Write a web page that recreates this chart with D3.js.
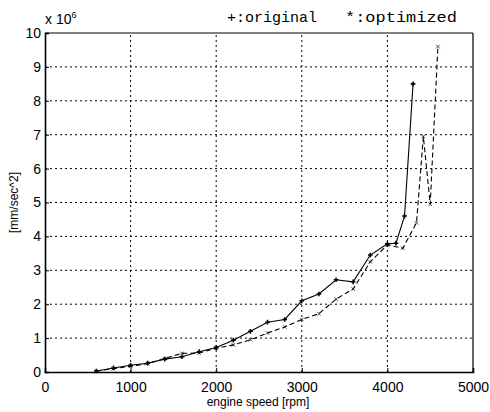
<!DOCTYPE html>
<html>
<head>
<meta charset="utf-8">
<script src="https://cdn.jsdelivr.net/npm/d3@7"></script>
<style>
  body { margin: 0; background: #fff; }
  svg { display: block; }
</style>
</head>
<body>
<svg id="chart" width="490" height="412"></svg>
<script>
// Acceleration vs engine speed, original vs optimized design (values in units of 10^6)
const originalRpm = [600, 800, 1000, 1200, 1400, 1600, 1800, 2000, 2200, 2400, 2600, 2800, 3000, 3200, 3400, 3600, 3800, 4000, 4100, 4200, 4300];
const originalAcc = [0.03, 0.12, 0.2, 0.26, 0.38, 0.45, 0.6, 0.72, 0.94, 1.2, 1.47, 1.55, 2.1, 2.3, 2.72, 2.66, 3.45, 3.78, 3.8, 4.6, 8.5];
const optimizedRpm = [600, 800, 1000, 1200, 1400, 1600, 1800, 2000, 2200, 2400, 2600, 2800, 3000, 3200, 3400, 3600, 3800, 4000, 4180, 4340, 4420, 4500, 4590];
const optimizedAcc = [0.02, 0.1, 0.17, 0.25, 0.4, 0.55, 0.56, 0.7, 0.8, 0.95, 1.15, 1.33, 1.55, 1.72, 2.15, 2.45, 3.25, 3.75, 3.65, 4.4, 6.95, 4.95, 9.6];
const xTicks = [0, 1000, 2000, 3000, 4000, 5000];
const yTicks = [0, 1, 2, 3, 4, 5, 6, 7, 8, 9, 10];

const svg = d3.select("#chart");
const m = { left: 45, right: 17, top: 33, bottom: 40 };
const W = 490, H = 412;
const x = d3.scaleLinear().domain([0, 5000]).range([m.left, W - m.right]);
const y = d3.scaleLinear().domain([0, 10]).range([H - m.bottom, m.top]);
const font = "'Liberation Sans', Arial, sans-serif";
const mono = "'Liberation Mono', 'DejaVu Sans Mono', monospace";

// dotted grid
const grid = svg.append("g").attr("stroke", "#000").attr("stroke-width", 1)
  .attr("stroke-dasharray", "2,3");
grid.selectAll(".gx").data(xTicks.slice(1, -1)).join("line")
  .attr("x1", d => x(d)).attr("x2", d => x(d))
  .attr("y1", y(0)).attr("y2", y(10));
grid.selectAll(".gy").data(yTicks.slice(1, -1)).join("line")
  .attr("x1", x(0)).attr("x2", x(5000))
  .attr("y1", d => y(d)).attr("y2", d => y(d));

// axes with inward ticks
const ax = svg.append("g");
ax.append("g").attr("transform", `translate(0,${y(0)})`)
  .call(d3.axisBottom(x).tickValues(xTicks).tickSize(-4).tickPadding(10).tickFormat(d3.format("d")));
ax.append("g").attr("transform", `translate(${x(0)},0)`)
  .call(d3.axisLeft(y).tickValues(yTicks).tickSize(-4).tickPadding(4).tickFormat(d3.format("d")));
ax.selectAll(".domain").attr("stroke", "#000").attr("stroke-width", 1.6);
ax.selectAll("text").attr("fill", "#000").attr("font-family", font).attr("font-size", 14);
ax.selectAll(".tick line").attr("stroke", "#000");

// top and right frame
svg.append("line").attr("x1", x(0)).attr("x2", x(5000)).attr("y1", y(10)).attr("y2", y(10))
  .attr("stroke", "#000").attr("stroke-width", 1.2);
svg.append("line").attr("x1", x(5000)).attr("x2", x(5000)).attr("y1", y(10)).attr("y2", y(0))
  .attr("stroke", "#000").attr("stroke-width", 1.2);

// series
const line = d3.line().x(d => x(d[0])).y(d => y(d[1]));
const orig = originalRpm.map((r, i) => [r, originalAcc[i]]);
const opt = optimizedRpm.map((r, i) => [r, optimizedAcc[i]]);

svg.append("path").datum(orig).attr("d", line)
  .attr("fill", "none").attr("stroke", "#000").attr("stroke-width", 1.1);
svg.append("path").datum(opt).attr("d", line)
  .attr("fill", "none").attr("stroke", "#000").attr("stroke-width", 1.1)
  .attr("stroke-dasharray", "5,3");

// markers
svg.append("g").selectAll("path").data(orig).join("path")
  .attr("d", d3.symbol(d3.symbolCross, 12))
  .attr("transform", d => `translate(${x(d[0])},${y(d[1])})`)
  .attr("fill", "#000");
svg.append("g").selectAll("path").data(opt).join("path")
  .attr("d", d3.symbol(d3.symbolTimes, 10))
  .attr("transform", d => `translate(${x(d[0])},${y(d[1])})`)
  .attr("fill", "none").attr("stroke", "#000").attr("stroke-width", 0.7);

// exponent label
const ex = svg.append("text").attr("x", 45).attr("y", 24)
  .attr("font-family", font).attr("font-size", 14).attr("fill", "#000");
ex.append("tspan").text("x 10");
ex.append("tspan").attr("dy", -6).attr("font-size", 9).text("6");

// legend text
svg.append("text").attr("x", 227).attr("y", 22)
  .attr("font-family", mono).attr("font-size", 15).attr("fill", "#000")
  .attr("textLength", 90).attr("lengthAdjust", "spacingAndGlyphs").text("+:original");
svg.append("text").attr("x", 345).attr("y", 22)
  .attr("font-family", mono).attr("font-size", 15).attr("fill", "#000")
  .attr("textLength", 112).attr("lengthAdjust", "spacingAndGlyphs").text("*:optimized");

// axis titles
svg.append("text").attr("x", 258).attr("y", 406).attr("text-anchor", "middle")
  .attr("font-family", font).attr("font-size", 12).attr("fill", "#000").text("engine speed [rpm]");
svg.append("text").attr("transform", `translate(18,${(y(0) + y(10)) / 2}) rotate(-90)`)
  .attr("text-anchor", "middle").attr("font-family", font).attr("font-size", 12)
  .attr("fill", "#000").text("[mm/sec^2]");
</script>
</body>
</html>
